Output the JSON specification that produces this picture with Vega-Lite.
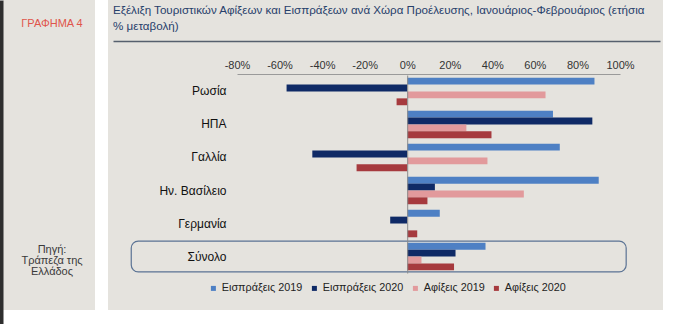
{
  "$schema": "https://vega.github.io/schema/vega-lite/v6.json",
  "background": "white",
  "padding": {"left": 0, "top": 0, "right": 15, "bottom": 0},
  "spacing": 13,
  "bounds": "flush",
  "config": {"font": "Liberation Sans", "view": {"stroke": null}},
  "resolve": {"scale": {"color": "independent", "y": "independent", "x": "independent"}, "legend": {"color": "independent"}},
  "hconcat": [
    {
      "width": 92,
      "height": 310,
      "view": {"fill": "#E5E3DE", "stroke": null},
      "data": {"values": [
        {"part": "head", "label": "ΓΡΑΦΗΜΑ 4"},
        {"part": "source", "label": "Πηγή:\nΤράπεζα της\nΕλλάδος"}
      ]},
      "mark": {"type": "text", "fontSize": 11, "lineBreak": "\n", "lineHeight": 11, "align": "center", "baseline": "middle", "dx": 3},
      "encoding": {
        "text": {"field": "label"},
        "y": {"field": "part", "type": "nominal",
          "scale": {"type": "point", "domain": ["head", "source"], "range": [0, 324], "padding": 0.2168, "align": 0.2449},
          "axis": {"orient": "left", "labels": false, "ticks": false, "title": null, "grid": false, "domain": true, "domainColor": "#2E2E2E", "domainWidth": 5, "offset": 2.5}},
        "color": {"field": "part", "type": "nominal", "scale": {"domain": ["head", "source"], "range": ["#E0554B", "#3A3A3A"]}, "legend": null}
      }
    },
    {
      "width": 555,
      "height": 310,
      "view": {"fill": "#E5E3DE", "stroke": null},
      "title": {
        "text": ["Εξέλιξη Τουριστικών Αφίξεων και Εισπράξεων ανά Χώρα Προέλευσης, Ιανουάριος-Φεβρουάριος (ετήσια", "% μεταβολή)"],
        "anchor": "start", "frame": "group", "dx": 5, "offset": -33,
        "fontSize": 11.6, "fontWeight": "normal", "color": "#27406B", "lineHeight": 16
      },
      "layer": [
        {
          "data": {"values": [
            {"country": "Ρωσία", "series": "Εισπράξεις 2019", "value": 88},
            {"country": "Ρωσία", "series": "Εισπράξεις 2020", "value": -56.7},
            {"country": "Ρωσία", "series": "Αφίξεις 2019", "value": 65},
            {"country": "Ρωσία", "series": "Αφίξεις  2020", "value": -5},
            {"country": "ΗΠΑ", "series": "Εισπράξεις 2019", "value": 68.5},
            {"country": "ΗΠΑ", "series": "Εισπράξεις 2020", "value": 87},
            {"country": "ΗΠΑ", "series": "Αφίξεις 2019", "value": 27.8},
            {"country": "ΗΠΑ", "series": "Αφίξεις  2020", "value": 39.6},
            {"country": "Γαλλία", "series": "Εισπράξεις 2019", "value": 71.7},
            {"country": "Γαλλία", "series": "Εισπράξεις 2020", "value": -44.6},
            {"country": "Γαλλία", "series": "Αφίξεις 2019", "value": 37.7},
            {"country": "Γαλλία", "series": "Αφίξεις  2020", "value": -23.8},
            {"country": "Ην. Βασίλειο", "series": "Εισπράξεις 2019", "value": 90},
            {"country": "Ην. Βασίλειο", "series": "Εισπράξεις 2020", "value": 13},
            {"country": "Ην. Βασίλειο", "series": "Αφίξεις 2019", "value": 54.8},
            {"country": "Ην. Βασίλειο", "series": "Αφίξεις  2020", "value": 9.5},
            {"country": "Γερμανία", "series": "Εισπράξεις 2019", "value": 15.3},
            {"country": "Γερμανία", "series": "Εισπράξεις 2020", "value": -8},
            {"country": "Γερμανία", "series": "Αφίξεις 2019", "value": 0},
            {"country": "Γερμανία", "series": "Αφίξεις  2020", "value": 4.7},
            {"country": "Σύνολο", "series": "Εισπράξεις 2019", "value": 36.8},
            {"country": "Σύνολο", "series": "Εισπράξεις 2020", "value": 22.7},
            {"country": "Σύνολο", "series": "Αφίξεις 2019", "value": 6.7},
            {"country": "Σύνολο", "series": "Αφίξεις  2020", "value": 22}
          ]},
          "mark": {"type": "bar"},
          "encoding": {
            "y": {"field": "country", "type": "nominal",
              "scale": {"domain": ["Ρωσία", "ΗΠΑ", "Γαλλία", "Ην. Βασίλειο", "Γερμανία", "Σύνολο"], "range": [75, 273], "paddingInner": 0.167, "paddingOuter": 0.083},
              "axis": {"orient": "left", "offset": -118, "domain": false, "ticks": false, "tickSize": 0, "labelPadding": 0, "labelFontSize": 12, "labelColor": "#111111", "title": null, "grid": false}},
            "yOffset": {"field": "series", "type": "nominal",
              "scale": {"domain": ["Εισπράξεις 2019", "Εισπράξεις 2020", "Αφίξεις 2019", "Αφίξεις  2020"], "paddingInner": 0, "paddingOuter": 0}},
            "x": {"field": "value", "type": "quantitative",
              "scale": {"domain": [-80, 100], "range": [129, 512], "nice": false, "zero": false},
              "axis": {"orient": "top", "offset": -74, "values": [-80, -60, -40, -20, 0, 20, 40, 60, 80, 100], "labelExpr": "datum.value + '%'", "grid": false, "ticks": false, "tickSize": 0, "labelPadding": 4, "domainColor": "#9A9A9A", "labelFontSize": 11, "labelColor": "#333333", "title": null, "labelFlush": false, "labelOverlap": false}},
            "color": {"field": "series", "type": "nominal",
              "scale": {"domain": ["Εισπράξεις 2019", "Εισπράξεις 2020", "Αφίξεις 2019", "Αφίξεις  2020"], "range": ["#4E80C4", "#0F2A66", "#E29A9C", "#A63A3E"]},
              "legend": {"orient": "none", "legendX": 100, "legendY": 283, "direction": "horizontal", "columns": 4, "gridAlign": "none", "title": null, "symbolType": "square", "symbolSize": 25, "symbolStrokeWidth": 0, "labelFontSize": 10.8, "labelColor": "#222222", "labelOffset": 3, "columnPadding": 6, "padding": 0, "labelLimit": 200}}
          }
        },
        {
          "data": {"values": [{"country": "Σύνολο", "from": -129.7, "to": 102.9}]},
          "mark": {"type": "rect", "fill": "transparent", "stroke": "#5B7394", "strokeWidth": 1.2, "cornerRadius": 7, "height": {"band": 1.12}},
          "encoding": {
            "y": {"field": "country", "type": "nominal",
              "scale": {"domain": ["Ρωσία", "ΗΠΑ", "Γαλλία", "Ην. Βασίλειο", "Γερμανία", "Σύνολο"], "range": [75, 273], "paddingInner": 0.167, "paddingOuter": 0.083},
              "axis": {"orient": "right", "offset": -255.8, "labels": false, "ticks": false, "domain": true, "domainColor": "#8C8C8C", "title": null, "grid": false}},
            "x": {"field": "from", "type": "quantitative", "scale": {"domain": [-80, 100], "range": [129, 512], "nice": false, "zero": false}, "axis": null},
            "x2": {"field": "to"}
          }
        },
        {
          "data": {"values": [{"v": 0}]},
          "mark": {"type": "rule", "opacity": 0},
          "encoding": {
            "x": {"field": "v", "type": "quantitative",
              "scale": {"domain": [0, 1], "range": [5, 552], "nice": false, "zero": false},
              "axis": {"orient": "bottom", "offset": -269, "labels": false, "ticks": false, "grid": false, "title": null, "domainColor": "#56606E", "domainWidth": 1.5}}
          }
        }
      ],
      "resolve": {"scale": {"x": "independent"}, "axis": {"x": "independent"}}
    }
  ]
}
